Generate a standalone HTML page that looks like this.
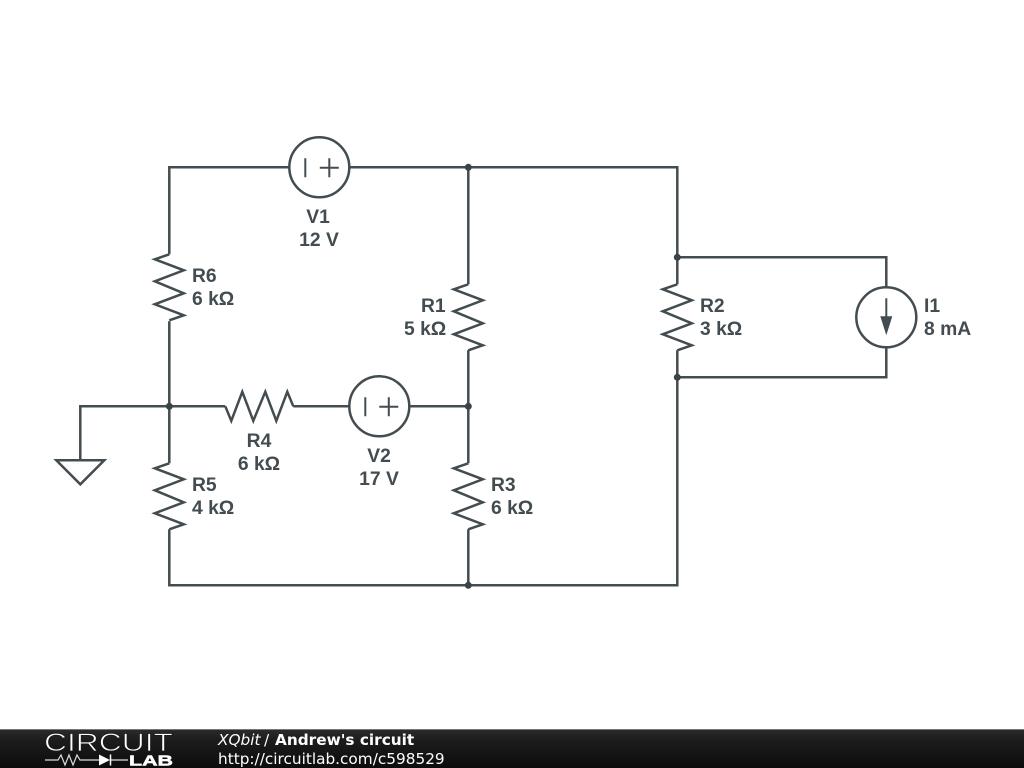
<!DOCTYPE html>
<html>
<head>
<meta charset="utf-8">
<style>
html,body{margin:0;padding:0;background:#fff}
svg{display:block}
.w{fill:none;stroke:#434c50;stroke-width:2.5;stroke-linejoin:miter}
.l{font-family:"Liberation Sans",sans-serif;font-weight:bold;font-size:19.3px;fill:#434c50}
.m{text-anchor:middle}
.f{font-family:"DejaVu Sans",sans-serif;font-size:15.3px;fill:#fff}
</style>
</head>
<body>
<svg width="1024" height="768" viewBox="0 0 1024 768" xmlns="http://www.w3.org/2000/svg">
<defs>
<linearGradient id="g" x1="0" y1="0" x2="0" y2="1">
<stop offset="0" stop-color="#2c2c2c"/><stop offset=".3" stop-color="#1c1c1c"/><stop offset="1" stop-color="#0c0c0c"/>
</linearGradient>
</defs>
<rect width="1024" height="768" fill="#fff"/>

<g transform="translate(.3 .3)">
<!-- wires -->
<path class="w" d="M169 254V167H289M349 167H677V257M468 167V284M468 350V463M468 529V585M169 321V463M169 529V585H677V350M677 257V284M677 257H886V287M886 347V377H677"/>
<path class="w" d="M80 460V406H225M293 406H349M409 406H468"/>

<!-- resistors -->
<path class="w" d="M169 254L154.500 259L183.500 270L154.500 281L183.500 293L154.500 304L183.500 315L169 320"/>
<path class="w" d="M468 284L453.500 289L482.500 300L453.500 311L482.500 323L453.500 334L482.500 345L468 350"/>
<path class="w" d="M677 284L662.500 289L691.500 300L662.500 311L691.500 323L662.500 334L691.500 345L677 350"/>
<path class="w" d="M169 463L154.500 468L183.500 479L154.500 490L183.500 502L154.500 513L183.500 524L169 529"/>
<path class="w" d="M468 463L453.500 468L482.500 479L453.500 490L482.500 502L453.500 513L482.500 524L468 529"/>
<path class="w" d="M225 406L231 420.500L242 391.500L253 420.500L265 391.500L276 420.500L287 391.500L293 406"/>

<!-- voltage sources -->
<circle class="w" cx="319" cy="167" r="30"/>
<path class="w" style="stroke-width:2" d="M305 158V177M319.500 167.500H338.500M329 158V177"/>
<circle class="w" cx="379" cy="406" r="30"/>
<path class="w" style="stroke-width:2" d="M365 397V416M379 406.500H398M388.500 397V416"/>

<!-- current source -->
<circle class="w" cx="886" cy="317" r="30"/>
<path class="w" style="stroke-width:2" d="M886 298V330"/>
<path d="M880 316H892L886 335Z" fill="#434c50"/>

<!-- ground -->
<path class="w" d="M56 460H104L80 484Z"/>

<!-- junctions -->
<g fill="#3a4347">
<circle cx="468" cy="167" r="3.5"/>
<circle cx="677" cy="257" r="3.5"/>
<circle cx="677" cy="377" r="3.5"/>
<circle cx="169" cy="406" r="3.5"/>
<circle cx="468" cy="406" r="3.5"/>
<circle cx="468" cy="585" r="3.5"/>
</g>
</g>

<!-- labels -->
<text class="l m" x="318" y="223">V1</text>
<text class="l m" x="319" y="246">12 V</text>
<text class="l" x="192" y="282">R6</text>
<text class="l" x="192" y="305">6 kΩ</text>
<text class="l" x="421" y="312">R1</text>
<text class="l" x="404" y="335">5 kΩ</text>
<text class="l" x="700" y="312">R2</text>
<text class="l" x="700" y="335">3 kΩ</text>
<text class="l" x="924" y="312">I1</text>
<text class="l" x="924" y="335">8 mA</text>
<text class="l m" x="259" y="447">R4</text>
<text class="l m" x="259" y="470">6 kΩ</text>
<text class="l m" x="379" y="462">V2</text>
<text class="l m" x="379" y="485">17 V</text>
<text class="l" x="192" y="491">R5</text>
<text class="l" x="192" y="514">4 kΩ</text>
<text class="l" x="491" y="491">R3</text>
<text class="l" x="491" y="514">6 kΩ</text>

<!-- footer -->
<rect x="0" y="729" width="1024" height="39" fill="url(#g)"/>
<rect x="0" y="729" width="1024" height="1" fill="#777"/>
<text x="44" y="751" font-family="'Liberation Sans',sans-serif" font-size="25" fill="#fff" stroke="#1a1a1a" stroke-width=".8" textLength="129" lengthAdjust="spacingAndGlyphs">CIRCUIT</text>
<path d="M45 760H58L61 755L65 765L69 755L73 765L77 755L80 760H100M110 760H128" fill="none" stroke="#ddd" stroke-width="1.2"/>
<path d="M99 754.500L110 760L99 765.500Z" fill="#fff"/>
<path d="M110.500 754.500V765.500" stroke="#fff" stroke-width="1.5"/>
<text x="129" y="765.500" font-family="'Liberation Sans',sans-serif" font-weight="bold" font-size="15" fill="#fff" stroke="#fff" stroke-width=".5" textLength="44" lengthAdjust="spacingAndGlyphs">LAB</text>
<text class="f" x="218" y="745" font-style="italic">XQbit</text>
<text class="f" x="264" y="745">/</text>
<text class="f" x="275" y="745" font-weight="bold">Andrew's circuit</text>
<text class="f" x="218" y="764">http://circuitlab.com/c598529</text>
</svg>
</body>
</html>
